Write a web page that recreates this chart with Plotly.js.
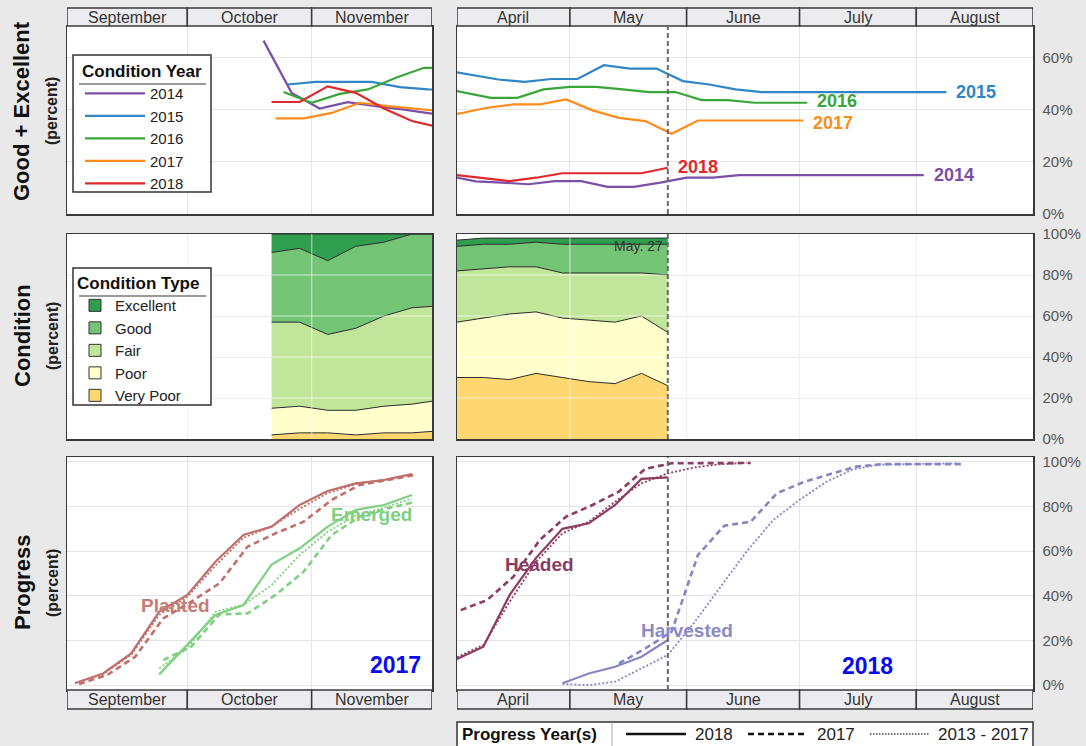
<!DOCTYPE html>
<html><head><meta charset="utf-8">
<script src="https://cdn.plot.ly/plotly-3.0.1.min.js"></script>
<style>html,body{margin:0;padding:0;background:#e9e9e9;overflow:hidden}#chart{width:1086px;height:746px}</style>
</head><body><div id="chart"></div>
<script>
// ================= DATA =================
const fallMonths = ['September', 'October', 'November'];
const fallMonthStarts = ['2017-09-01', '2017-10-01', '2017-11-01', '2017-12-01'];
const springMonths = ['April', 'May', 'June', 'July', 'August'];
const springMonthStarts = ['2018-04-01', '2018-05-01', '2018-06-01', '2018-07-01', '2018-08-01', '2018-09-01'];
const reportDate = '2018-05-27';
const reportLabel = 'May. 27';
const conditionYears = ['2014', '2015', '2016', '2017', '2018'];
const conditionTypes = ['Excellent', 'Good', 'Fair', 'Poor', 'Very Poor'];
const progressYears = ['2018', '2017', '2013 - 2017'];
const progressStages = ['Planted', 'Emerged', 'Headed', 'Harvested'];
const fallSeasonLabel = '2017';
const springSeasonLabel = '2018';
const geTicks = [0, 20, 40, 60];
const pctTicks = [0, 20, 40, 60, 80, 100];

// Good + Excellent (percent) - fall (plotted on the 2017 calendar)
const ge2014FallX = ['2017-10-20', '2017-10-27', '2017-11-03', '2017-11-10', '2017-11-17', '2017-11-24', '2017-12-01'];
const ge2014FallY = [66.4, 46.4, 40.4, 42.8, 41.3, 40.0, 38.4];
const ge2015FallX = ['2017-10-26', '2017-11-02', '2017-11-09', '2017-11-16', '2017-11-23', '2017-11-30', '2017-12-07'];
const ge2015FallY = [49.6, 50.6, 50.6, 50.6, 48.6, 47.7, 47.5];
const ge2016FallX = ['2017-10-25', '2017-11-01', '2017-11-08', '2017-11-15', '2017-11-22', '2017-11-29', '2017-12-06'];
const ge2016FallY = [46.7, 42.6, 46.0, 47.7, 52.2, 56.0, 56.0];
const ge2017FallX = ['2017-10-23', '2017-10-30', '2017-11-06', '2017-11-13', '2017-11-20', '2017-11-27', '2017-12-04'];
const ge2017FallY = [36.6, 36.6, 38.7, 42.6, 41.3, 40.3, 39.3];
const ge2018FallX = ['2017-10-22', '2017-10-29', '2017-11-05', '2017-11-12', '2017-11-19', '2017-11-26', '2017-12-03'];
const ge2018FallY = [42.9, 42.9, 48.9, 46.4, 40.4, 35.6, 33.2];

// Good + Excellent (percent) - spring/summer (plotted on the 2018 calendar)
const ge2014SpringX = ['2018-03-30', '2018-04-06', '2018-04-13', '2018-04-20', '2018-04-27', '2018-05-04', '2018-05-11', '2018-05-18', '2018-05-25', '2018-06-01', '2018-06-08', '2018-06-15', '2018-08-03'];
const ge2014SpringY = [14.5, 12.5, 12.0, 11.4, 12.6, 12.6, 10.4, 10.4, 12.0, 13.9, 13.9, 14.9, 14.9];
const ge2015SpringX = ['2018-03-29', '2018-04-05', '2018-04-12', '2018-04-19', '2018-04-26', '2018-05-03', '2018-05-10', '2018-05-17', '2018-05-24', '2018-05-31', '2018-06-07', '2018-06-14', '2018-06-21', '2018-08-09'];
const ge2015SpringY = [55.0, 53.3, 51.5, 50.6, 51.7, 51.7, 57.0, 55.7, 55.7, 50.9, 49.6, 47.7, 46.7, 46.7];
const ge2016SpringX = ['2018-03-27', '2018-04-03', '2018-04-10', '2018-04-17', '2018-04-24', '2018-05-01', '2018-05-08', '2018-05-15', '2018-05-22', '2018-05-29', '2018-06-05', '2018-06-12', '2018-06-19', '2018-07-03'];
const ge2016SpringY = [48.5, 46.5, 44.5, 44.5, 47.7, 48.7, 48.7, 47.7, 46.7, 46.7, 43.6, 43.6, 42.6, 42.6];
const ge2017SpringX = ['2018-03-26', '2018-04-02', '2018-04-09', '2018-04-16', '2018-04-23', '2018-04-30', '2018-05-07', '2018-05-14', '2018-05-21', '2018-05-28', '2018-06-04', '2018-07-02'];
const ge2017SpringY = [37.0, 38.6, 40.7, 42.0, 42.0, 43.9, 39.7, 36.8, 35.6, 30.7, 35.8, 35.8];
const ge2018SpringX = ['2018-04-01', '2018-04-08', '2018-04-15', '2018-04-22', '2018-04-29', '2018-05-06', '2018-05-13', '2018-05-20', '2018-05-27'];
const ge2018SpringY = [14.9, 13.8, 12.6, 13.9, 15.6, 15.6, 15.6, 15.6, 17.7];

// Condition (percent of crop) - 2018 crop year
const condFallX = ['2017-10-22', '2017-10-29', '2017-11-05', '2017-11-12', '2017-11-19', '2017-11-26', '2017-12-03'];
const veryPoorFall = [2, 3, 3, 2, 3, 3, 4];
const poorFall = [13, 13, 11, 12, 13, 14, 15];
const fairFall = [42, 41, 37, 40, 44, 47, 46];
const goodFall = [34, 36, 36, 40, 36, 36, 35];
const excellentFall = [9, 7, 13, 6, 4, 0, 0];
const condSpringX = ['2018-04-01', '2018-04-08', '2018-04-15', '2018-04-22', '2018-04-29', '2018-05-06', '2018-05-13', '2018-05-20', '2018-05-27'];
const veryPoorSpring = [30, 30, 29, 32, 30, 28, 27, 32, 26];
const poorSpring = [27, 29, 32, 30, 29, 30, 30, 28, 26];
const fairSpring = [25, 24, 23, 22, 22, 23, 24, 21, 28];
const goodSpring = [12, 12, 11, 12, 14, 14, 14, 14, 15];
const excellentSpring = [3, 3, 3, 2, 3, 3, 3, 3, 3];

// Progress (percent) - fall
const prog2018FallX = ['2017-09-03', '2017-09-10', '2017-09-17', '2017-09-24', '2017-10-01', '2017-10-08', '2017-10-15', '2017-10-22', '2017-10-29', '2017-11-05', '2017-11-12', '2017-11-19', '2017-11-26'];
const prog2017FallX = ['2017-09-04', '2017-09-11', '2017-09-18', '2017-09-25', '2017-10-02', '2017-10-09', '2017-10-16', '2017-10-23', '2017-10-30', '2017-11-06', '2017-11-13', '2017-11-20', '2017-11-27'];
const planted2018 = [0.8, 5.2, 14.2, 32.9, 40.4, 55.3, 67.3, 71.0, 80.7, 87.0, 90.4, 91.9, 94.5];
const planted2017 = [0.5, 4.5, 12.7, 29.9, 37.4, 45.6, 62.0, 68.0, 73.2, 83.0, 89.7, 91.9, 94.2];
const planted5yr = [1.0, 5.0, 13.5, 31.5, 39.5, 53.5, 66.0, 71.0, 79.0, 86.0, 90.0, 92.0, 94.5];
const emerged2018X = ['2017-09-24', '2017-10-01', '2017-10-08', '2017-10-15', '2017-10-22', '2017-10-29', '2017-11-05', '2017-11-12', '2017-11-19', '2017-11-26'];
const emerged2017X = ['2017-09-25', '2017-10-02', '2017-10-09', '2017-10-16', '2017-10-23', '2017-10-30', '2017-11-06', '2017-11-13', '2017-11-20', '2017-11-27'];
const emerged2018 = [4.8, 17.9, 31.4, 35.9, 54.0, 61.3, 71.0, 78.5, 80.7, 85.2];
const emerged2017 = [11.2, 17.2, 31.7, 32.1, 40.4, 50.8, 67.3, 75.5, 79.2, 82.2];
const emerged5yr = [7.5, 16.5, 32.9, 35.9, 44.8, 58.3, 68.7, 76.0, 79.5, 83.6];

// Progress (percent) - spring/summer
const headed2018X = ['2018-04-01', '2018-04-08', '2018-04-15', '2018-04-22', '2018-04-29', '2018-05-06', '2018-05-13', '2018-05-20', '2018-05-27'];
const headed2018 = [11.7, 17.2, 40.4, 57.0, 70.0, 72.5, 80.7, 92.4, 93.1];
const headed2017X = ['2018-04-02', '2018-04-09', '2018-04-16', '2018-04-23', '2018-04-30', '2018-05-07', '2018-05-14', '2018-05-21', '2018-05-28', '2018-06-04', '2018-06-11', '2018-06-18'];
const headed2017 = [33.6, 38.1, 48.6, 65.0, 75.5, 80.7, 86.7, 96.9, 99.4, 99.5, 99.5, 99.5];
const headed5yrX = ['2018-04-01', '2018-04-08', '2018-04-15', '2018-04-22', '2018-04-29', '2018-05-06', '2018-05-13', '2018-05-20', '2018-05-27', '2018-06-03', '2018-06-10', '2018-06-17'];
const headed5yr = [12.5, 18.0, 37.4, 55.3, 68.0, 73.2, 82.2, 90.4, 94.9, 97.5, 99.0, 99.5];
const harvested2018X = ['2018-04-29', '2018-05-06', '2018-05-13', '2018-05-20', '2018-05-27'];
const harvested2018 = [0.8, 5.2, 8.2, 12.7, 20.2];
const harvested2017X = ['2018-05-14', '2018-05-21', '2018-05-28', '2018-06-04', '2018-06-11', '2018-06-18', '2018-06-25', '2018-07-02', '2018-07-09', '2018-07-16', '2018-07-23', '2018-08-13'];
const harvested2017 = [9.7, 16.4, 23.9, 58.3, 71.4, 73.2, 86.0, 90.9, 94.5, 97.9, 99.0, 99.0];
const harvested5yrX = ['2018-04-29', '2018-05-06', '2018-05-13', '2018-05-20', '2018-05-27', '2018-06-03', '2018-06-10', '2018-06-17', '2018-06-24', '2018-07-01', '2018-07-08', '2018-07-15', '2018-07-22', '2018-08-12'];
const harvested5yr = [0.5, 0.0, 1.5, 7.5, 13.5, 28.0, 44.0, 60.0, 74.0, 83.0, 91.0, 96.5, 98.8, 99.3];

// ================= STYLE =================
const W = 1086, H = 746;
const px = v => v / W, py = v => 1 - v / H;
const FONT = 'Liberation Sans, Arial, Helvetica, sans-serif';
const yearColors = {'2014': '#7b4fa6', '2015': '#2f86c6', '2016': '#38a638', '2017': '#ff8c1a', '2018': '#e0282d'};
const condColors = {'Excellent': '#2f9e4f', 'Good': '#74c476', 'Fair': '#c2e699', 'Poor': '#ffffcc', 'Very Poor': '#fed770'};
const stageColors = {'Planted': '#bf6f6c', 'Emerged': '#7fd07f', 'Headed': '#8c3b62', 'Harvested': '#8686c3'};
const stageText = {'Planted': '#c57b78', 'Emerged': '#80d080', 'Headed': '#8c3b62', 'Harvested': '#8a8ac6'};
const yearDash = {'2018': 'solid', '2017': '6px,4px', '2013 - 2017': '2px,2px'};
const yearWidth = {'2018': 2.2, '2017': 2.6, '2013 - 2017': 1.8};

const colL = [px(67), px(432)], colR = [px(457), px(1033)];
const rowTop = [py(214), py(26)], rowMid = [py(439), py(234)], rowBot = [py(690), py(457)];
const stripTop = [py(26), py(8)], stripBot = [py(709), py(690)];

const traces = [];
function line(x, y, xa, ya, color, opts = {}) {
  traces.push(Object.assign({type: 'scatter', mode: 'lines', x: x, y: y, xaxis: xa, yaxis: ya,
    line: {color: color, width: opts.width || 2.2, dash: opts.dash || 'solid'}, showlegend: false, hoverinfo: 'skip'}, opts.extra || {}));
}

// Top panels: Good + Excellent
const geFall = {'2014': [ge2014FallX, ge2014FallY], '2015': [ge2015FallX, ge2015FallY], '2016': [ge2016FallX, ge2016FallY], '2017': [ge2017FallX, ge2017FallY], '2018': [ge2018FallX, ge2018FallY]};
const geSpring = {'2014': [ge2014SpringX, ge2014SpringY], '2015': [ge2015SpringX, ge2015SpringY], '2016': [ge2016SpringX, ge2016SpringY], '2017': [ge2017SpringX, ge2017SpringY], '2018': [ge2018SpringX, ge2018SpringY]};
conditionYears.forEach(yr => {
  line(geFall[yr][0], geFall[yr][1], 'x', 'y', yearColors[yr], {extra: {name: yr, showlegend: true, legend: 'legend'}});
});
conditionYears.forEach(yr => {
  line(geSpring[yr][0], geSpring[yr][1], 'x2', 'y2', yearColors[yr]);
});

// Middle panels: stacked condition areas
const condFall = {'Very Poor': veryPoorFall, 'Poor': poorFall, 'Fair': fairFall, 'Good': goodFall, 'Excellent': excellentFall};
const condSpring = {'Very Poor': veryPoorSpring, 'Poor': poorSpring, 'Fair': fairSpring, 'Good': goodSpring, 'Excellent': excellentSpring};
conditionTypes.slice().reverse().forEach(ct => {
  traces.push({type: 'scatter', mode: 'lines', x: condFallX, y: condFall[ct], xaxis: 'x3', yaxis: 'y3', stackgroup: 'fall',
    fillcolor: condColors[ct], line: {color: '#2b2b2b', width: 1}, showlegend: false, hoverinfo: 'skip'});
  traces.push({type: 'scatter', mode: 'lines', x: condSpringX, y: condSpring[ct], xaxis: 'x4', yaxis: 'y4', stackgroup: 'spring',
    fillcolor: condColors[ct], line: {color: '#2b2b2b', width: 1}, showlegend: false, hoverinfo: 'skip'});
});
conditionTypes.forEach(ct => {
  traces.push({type: 'scatter', mode: 'markers', x: [null], y: [null], xaxis: 'x3', yaxis: 'y3', name: ct, legend: 'legend2',
    marker: {symbol: 'square', size: 12, color: condColors[ct], line: {color: '#333', width: 1}}, hoverinfo: 'skip'});
});

// Bottom panels: progress
line(prog2018FallX, planted2018, 'x5', 'y5', stageColors.Planted, {width: yearWidth['2018']});
line(prog2017FallX, planted2017, 'x5', 'y5', stageColors.Planted, {width: yearWidth['2017'], dash: yearDash['2017']});
line(prog2018FallX, planted5yr, 'x5', 'y5', stageColors.Planted, {width: yearWidth['2013 - 2017'], dash: yearDash['2013 - 2017']});
line(emerged2018X, emerged2018, 'x5', 'y5', stageColors.Emerged, {width: yearWidth['2018']});
line(emerged2017X, emerged2017, 'x5', 'y5', stageColors.Emerged, {width: yearWidth['2017'], dash: yearDash['2017']});
line(emerged2018X, emerged5yr, 'x5', 'y5', stageColors.Emerged, {width: yearWidth['2013 - 2017'], dash: yearDash['2013 - 2017']});
line(headed2018X, headed2018, 'x6', 'y6', stageColors.Headed, {width: yearWidth['2018']});
line(headed2017X, headed2017, 'x6', 'y6', stageColors.Headed, {width: yearWidth['2017'], dash: yearDash['2017']});
line(headed5yrX, headed5yr, 'x6', 'y6', stageColors.Headed, {width: yearWidth['2013 - 2017'], dash: yearDash['2013 - 2017']});
line(harvested2018X, harvested2018, 'x6', 'y6', stageColors.Harvested, {width: yearWidth['2018']});
line(harvested2017X, harvested2017, 'x6', 'y6', stageColors.Harvested, {width: yearWidth['2017'], dash: yearDash['2017']});
line(harvested5yrX, harvested5yr, 'x6', 'y6', stageColors.Harvested, {width: yearWidth['2013 - 2017'], dash: yearDash['2013 - 2017']});

// ================= AXES =================
const grid = '#e4e4e4', frame = '#3a3a3a';
function xax(domain, anchor, range, ticks) {
  return {domain: domain, anchor: anchor, type: 'date', range: range, tickvals: ticks, showticklabels: false, ticks: '',
    showgrid: true, gridcolor: grid, gridwidth: 1, showline: true, mirror: true, linecolor: frame, linewidth: 1.5, zeroline: false, fixedrange: true};
}
function yax(domain, anchor, range, tickvals, right) {
  return {domain: domain, anchor: anchor, range: range, tickvals: tickvals, ticktext: tickvals.map(v => v + '%'),
    showticklabels: !!right, side: right ? 'right' : 'left', ticks: '', ticklabelstandoff: 5,
    tickfont: {size: 15, color: '#555', family: FONT},
    showgrid: true, gridcolor: grid, gridwidth: 1, showline: true, mirror: true, linecolor: frame, linewidth: 1.5, zeroline: false, fixedrange: true};
}
const fallRange = [fallMonthStarts[0], fallMonthStarts[fallMonthStarts.length - 1]];
const springRange = [springMonthStarts[0], springMonthStarts[springMonthStarts.length - 1]];

// ================= DECORATIONS =================
const shapes = [], annotations = [];
function midDate(a, b) {
  const m = new Date((Date.parse(a) + Date.parse(b)) / 2);
  return m.toISOString().slice(0, 19).replace('T', ' ');
}
function strip(xref, starts, names, yr) {
  names.forEach((nm, i) => {
    shapes.push({type: 'rect', xref: xref, yref: 'paper', x0: starts[i], x1: starts[i + 1], y0: yr[0], y1: yr[1],
      fillcolor: '#ececf0', line: {color: frame, width: 1.5}, layer: 'above'});
    annotations.push({xref: xref, yref: 'paper', x: midDate(starts[i], starts[i + 1]), y: (yr[0] + yr[1]) / 2, text: nm,
      showarrow: false, font: {size: 16, color: '#333', family: FONT}, xanchor: 'center', yanchor: 'middle'});
  });
}
strip('x', fallMonthStarts, fallMonths, stripTop);
strip('x2', springMonthStarts, springMonths, stripTop);
strip('x5', fallMonthStarts, fallMonths, stripBot);
strip('x6', springMonthStarts, springMonths, stripBot);

// gridlines showing through the stacked condition areas
['3', '4'].forEach(k => {
  [20, 40, 60, 80].forEach(v => {
    shapes.push({type: 'line', xref: 'x' + k + ' domain', yref: 'y' + k, x0: 0, x1: 1, y0: v, y1: v,
      line: {color: 'rgba(255,255,255,0.45)', width: 1.5}, layer: 'above'});
  });
  const starts = k === '3' ? fallMonthStarts : springMonthStarts;
  starts.slice(1, -1).forEach(d => {
    shapes.push({type: 'line', xref: 'x' + k, yref: 'y' + k + ' domain', x0: d, x1: d, y0: 0, y1: 1,
      line: {color: 'rgba(255,255,255,0.45)', width: 1.5}, layer: 'above'});
  });
});

['2', '4', '6'].forEach(k => {
  shapes.push({type: 'line', xref: 'x' + k, yref: 'y' + k + ' domain', x0: reportDate, x1: reportDate, y0: 0, y1: 1,
    line: {color: '#6a6a6a', width: 2, dash: '5px,3px'}, layer: 'above'});
});
annotations.push({xref: 'x4', yref: 'y4', x: reportDate, y: 94, text: reportLabel, showarrow: false, xanchor: 'right', yanchor: 'middle',
  xshift: -3, font: {size: 14, color: '#333', family: FONT}});

// year labels at the end of each spring line
const labelNudge = {'2014': 0, '2015': 0, '2016': 2, '2017': -2, '2018': 1};
conditionYears.forEach(yr => {
  const xs = geSpring[yr][0], ys = geSpring[yr][1];
  annotations.push({xref: 'x2', yref: 'y2', x: xs[xs.length - 1], y: ys[ys.length - 1], text: '<b>' + yr + '</b>', showarrow: false,
    xanchor: 'left', yanchor: 'middle', xshift: 8, yshift: labelNudge[yr], font: {size: 18, color: yearColors[yr], family: FONT}});
});

// stage labels
const stageLabelPos = {
  'Planted': ['x5', 'y5', '2017-09-28', 35.5],
  'Emerged': ['x5', 'y5', '2017-11-16', 76.5],
  'Headed': ['x6', 'y6', '2018-04-23', 54],
  'Harvested': ['x6', 'y6', '2018-06-01', 24.5]
};
progressStages.forEach(st => {
  const p = stageLabelPos[st];
  annotations.push({xref: p[0], yref: p[1], x: p[2], y: p[3], text: '<b>' + st + '</b>', showarrow: false, xanchor: 'center', yanchor: 'middle',
    font: {size: 19, color: stageText[st], family: FONT}});
});
annotations.push({xref: 'x5 domain', yref: 'y5', x: 0.975, y: 9, text: '<b>' + fallSeasonLabel + '</b>', showarrow: false, xanchor: 'right', yanchor: 'middle',
  font: {size: 23, color: '#0a0af0', family: FONT}});
annotations.push({xref: 'x6', yref: 'y6', x: '2018-07-19', y: 8.5, text: '<b>' + springSeasonLabel + '</b>', showarrow: false, xanchor: 'center', yanchor: 'middle',
  font: {size: 23, color: '#0a0af0', family: FONT}});

// y-axis titles
function ytitle(main, yc) {
  annotations.push({xref: 'paper', yref: 'paper', x: px(22), y: py(yc), text: '<b>' + main + '</b>', textangle: -90, showarrow: false,
    xanchor: 'center', yanchor: 'middle', font: {size: 22, color: '#111', family: FONT}});
  annotations.push({xref: 'paper', yref: 'paper', x: px(52), y: py(yc), text: '<b>(percent)</b>', textangle: -90, showarrow: false,
    xanchor: 'center', yanchor: 'middle', font: {size: 16, color: '#222', family: FONT}});
}
ytitle('Good + Excellent', 111);
ytitle('Condition', 336);
ytitle('Progress', 583);

// legend frames + title underlines
[[55, 192, 84], [268, 405, 296]].forEach(b => {
  shapes.push({type: 'rect', xref: 'paper', yref: 'paper', x0: px(73), x1: px(211), y0: py(b[1]), y1: py(b[0]),
    fillcolor: 'white', line: {color: '#333', width: 1.5}, layer: 'above'});
  shapes.push({type: 'line', xref: 'paper', yref: 'paper', x0: px(79), x1: px(206), y0: py(b[2]), y1: py(b[2]),
    line: {color: '#9a9a9a', width: 2}, layer: 'above'});
});

// bottom "Progress Year(s)" key
shapes.push({type: 'rect', xref: 'paper', yref: 'paper', x0: px(457), x1: px(1033), y0: py(762), y1: py(722),
  fillcolor: 'white', line: {color: '#333', width: 1.5}});
shapes.push({type: 'line', xref: 'paper', yref: 'paper', x0: px(612), x1: px(612), y0: py(723), y1: py(746), line: {color: '#aaa', width: 1}});
annotations.push({xref: 'paper', yref: 'paper', x: px(460), y: py(734), text: '<b>Progress Year(s)</b>', showarrow: false,
  xanchor: 'left', yanchor: 'middle', font: {size: 17, color: '#111', family: FONT}});
const keyPos = {'2018': [626, 686, 693], '2017': [748, 808, 815], '2013 - 2017': [870, 930, 936]};
progressYears.forEach(yr => {
  const k = keyPos[yr];
  shapes.push({type: 'line', xref: 'paper', yref: 'paper', x0: px(k[0]), x1: px(k[1]), y0: py(734), y1: py(734),
    line: {color: yr === '2013 - 2017' ? '#444' : '#111', width: yr === '2013 - 2017' ? 1.3 : 2.6,
      dash: yr === '2013 - 2017' ? '1.5px,1.5px' : yearDash[yr]}});
  annotations.push({xref: 'paper', yref: 'paper', x: px(k[2]), y: py(734), text: yr, showarrow: false,
    xanchor: 'left', yanchor: 'middle', font: {size: 17, color: '#222', family: FONT}});
});

const legendBase = {bgcolor: 'rgba(0,0,0,0)', borderwidth: 0, font: {size: 15, color: '#222', family: FONT},
  xanchor: 'left', yanchor: 'top', tracegroupgap: 0, traceorder: 'normal', itemclick: false, itemdoubleclick: false};

const layout = {
  width: W, height: H, margin: {l: 0, r: 0, t: 0, b: 0}, paper_bgcolor: '#e9e9e9', plot_bgcolor: 'white',
  font: {family: FONT, color: '#222'}, showlegend: true, hovermode: false,
  xaxis: xax(colL, 'y', fallRange, fallMonthStarts), yaxis: yax(rowTop, 'x', [0, 72], geTicks, false),
  xaxis2: xax(colR, 'y2', springRange, springMonthStarts), yaxis2: yax(rowTop, 'x2', [0, 72], geTicks, true),
  xaxis3: xax(colL, 'y3', fallRange, fallMonthStarts), yaxis3: yax(rowMid, 'x3', [0, 100], pctTicks, false),
  xaxis4: xax(colR, 'y4', springRange, springMonthStarts), yaxis4: yax(rowMid, 'x4', [0, 100], pctTicks, true),
  xaxis5: xax(colL, 'y5', fallRange, fallMonthStarts), yaxis5: yax(rowBot, 'x5', [-2.2, 102.2], pctTicks, false),
  xaxis6: xax(colR, 'y6', springRange, springMonthStarts), yaxis6: yax(rowBot, 'x6', [-2.2, 102.2], pctTicks, true),
  legend: Object.assign({}, legendBase, {x: px(80), y: py(55), itemwidth: 60,
    title: {text: '<b>Condition Year</b>', font: {size: 17, color: '#111', family: FONT}}}),
  legend2: Object.assign({}, legendBase, {x: px(75), y: py(267),
    title: {text: '<b>Condition Type</b>', font: {size: 17, color: '#111', family: FONT}}}),
  shapes: shapes, annotations: annotations
};

Plotly.newPlot('chart', traces, layout, {staticPlot: true, displayModeBar: false});
</script></body></html>
